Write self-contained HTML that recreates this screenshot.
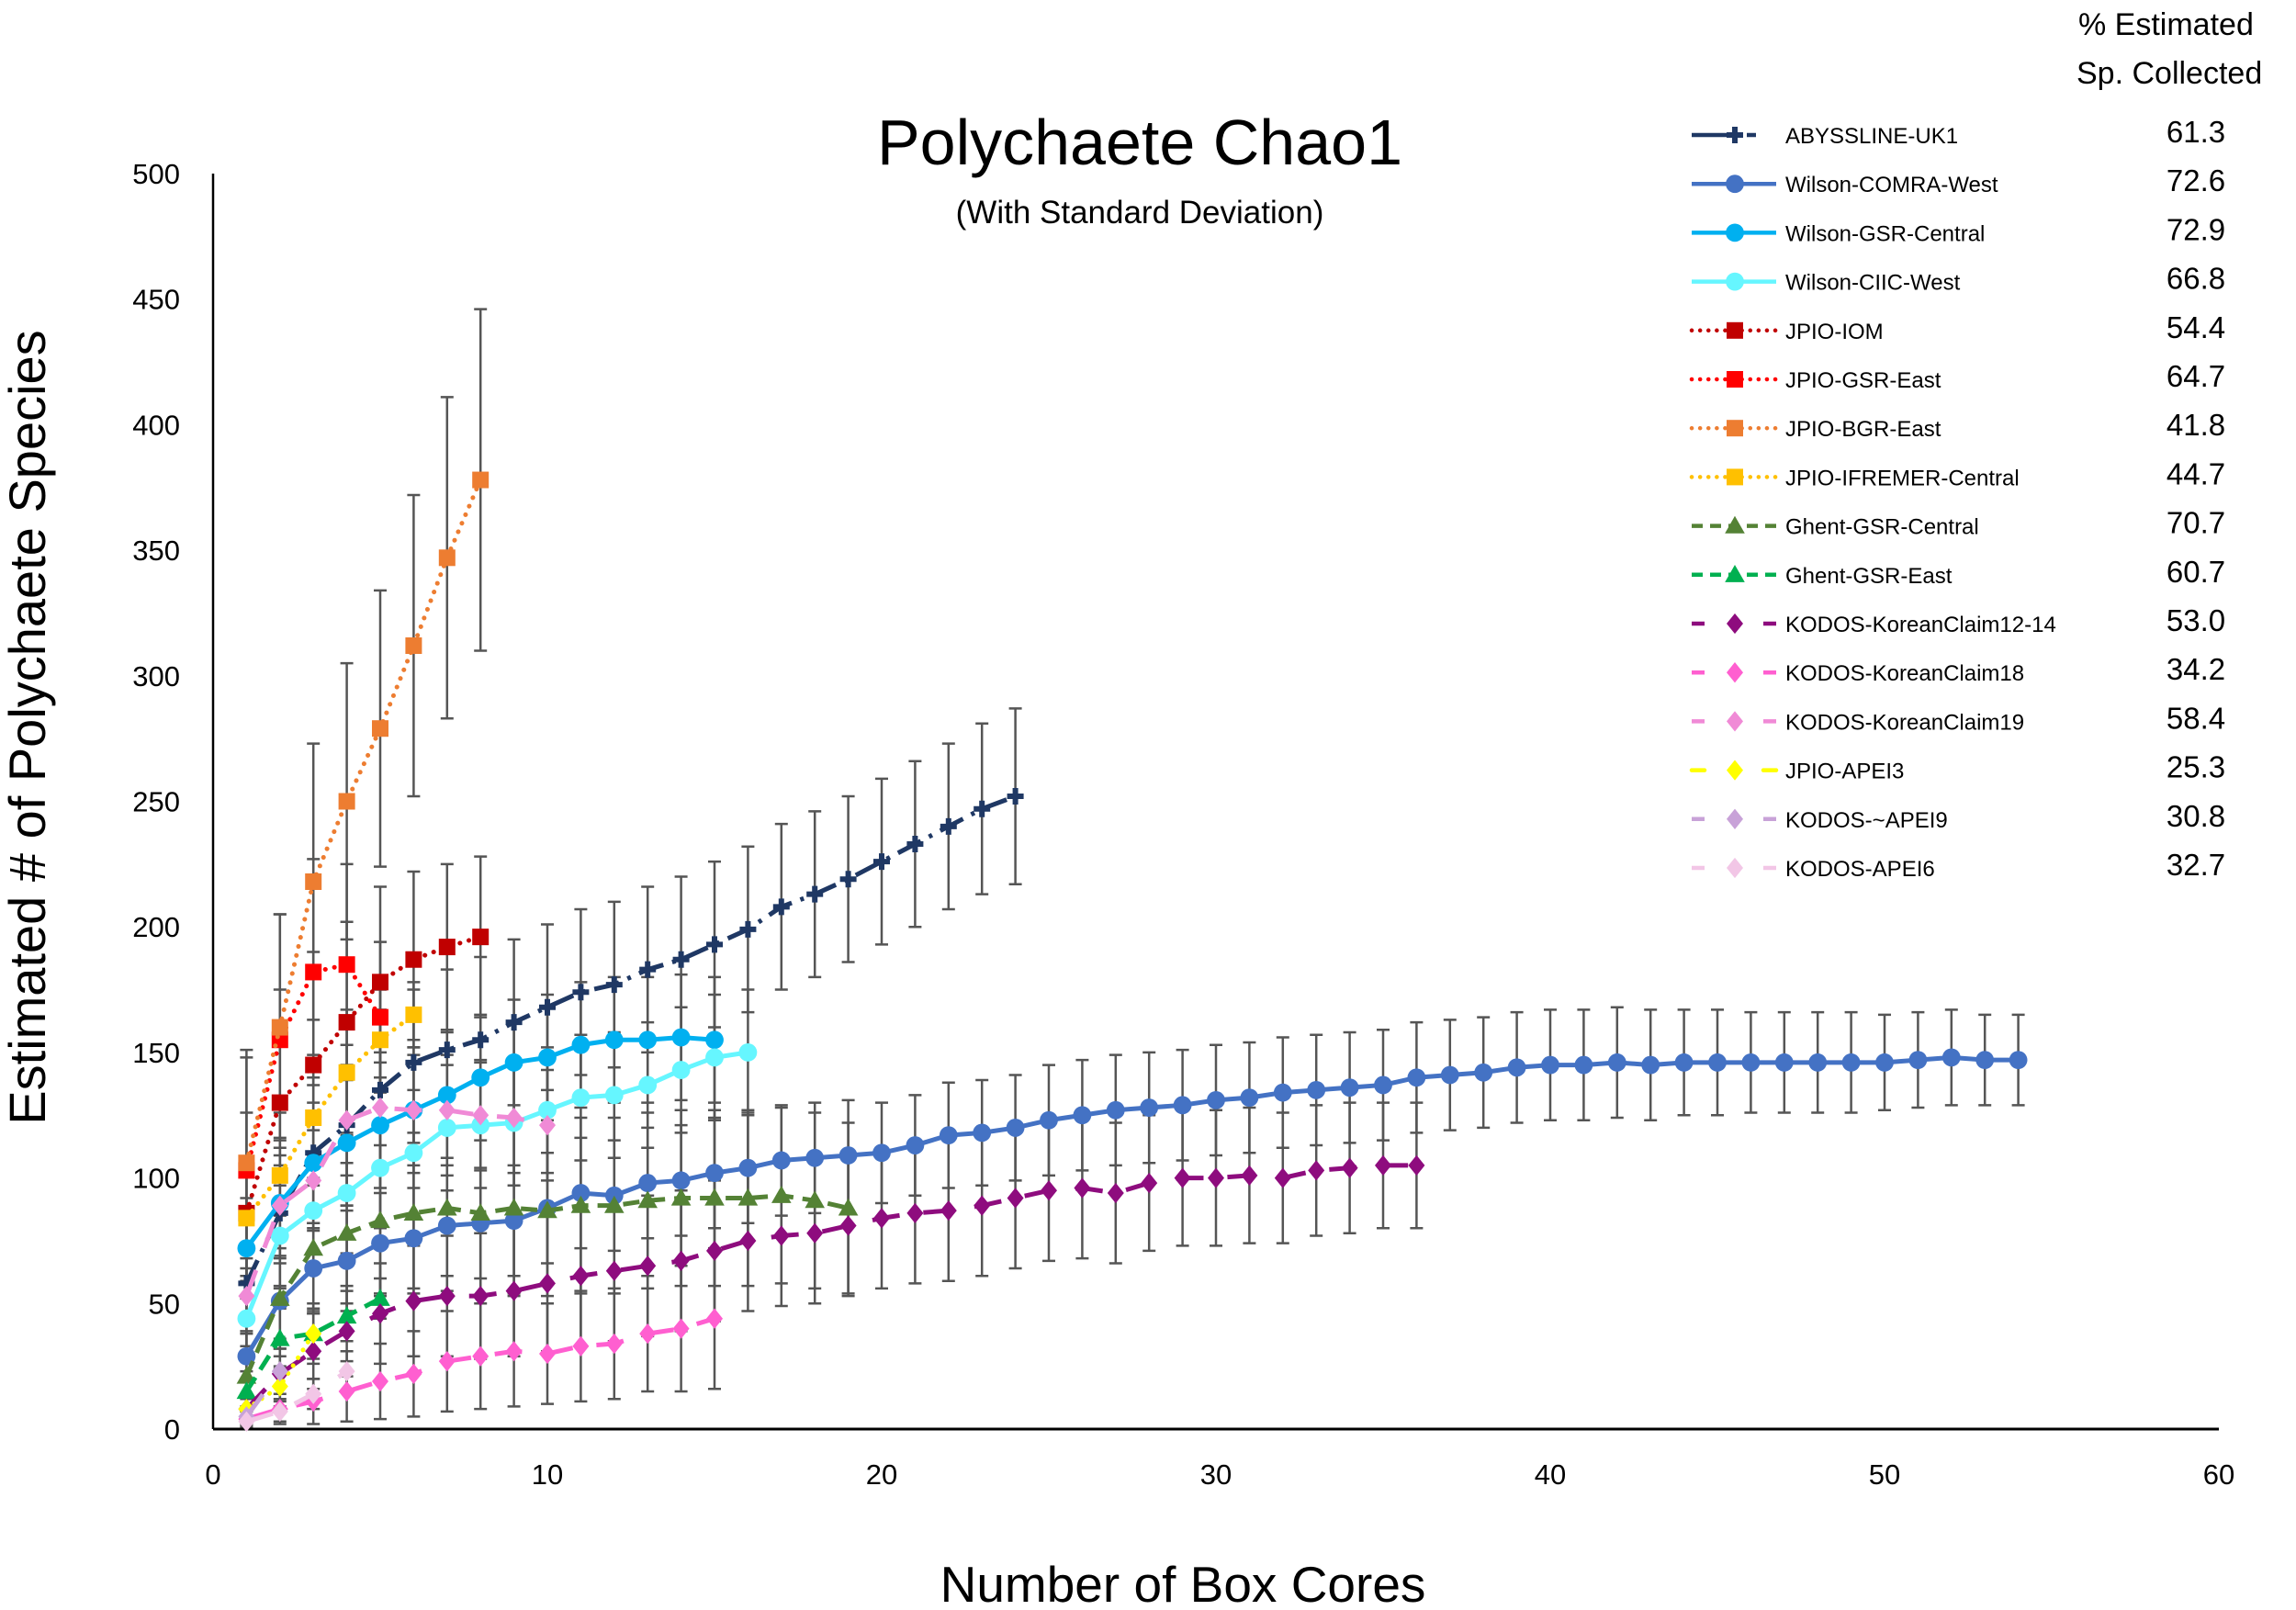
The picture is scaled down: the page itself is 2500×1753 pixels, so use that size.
<!DOCTYPE html>
<html><head><meta charset="utf-8">
<style>
html,body{margin:0;padding:0;background:#fff;}
svg{display:block;font-family:"Liberation Sans",sans-serif;}
</style></head>
<body>
<svg id="chart" width="2500" height="1753" viewBox="0 0 2500 1753" xmlns="http://www.w3.org/2000/svg">
<text x="1241" y="179" font-size="70" text-anchor="middle" fill="#000">Polychaete Chao1</text>
<text x="1241" y="243" font-size="35" text-anchor="middle" fill="#000">(With Standard Deviation)</text>
<text transform="translate(49,792) rotate(-90)" font-size="56" text-anchor="middle" fill="#000">Estimated # of Polychaete Species</text>
<text x="1288" y="1744" font-size="55" text-anchor="middle" fill="#000">Number of Box Cores</text>
<text x="2263" y="38" font-size="34" fill="#000">% Estimated</text>
<text x="2261" y="91" font-size="34" fill="#000">Sp. Collected</text>
<g id="axes"></g>
<g id="errs"></g>
<g id="series"></g>
<g id="legend"></g>
</svg>
<script>
const xTicks=[0,10,20,30,40,50,60];
const yTicks=[0,50,100,150,200,250,300,350,400,450,500];
const names=["ABYSSLINE-UK1","Wilson-COMRA-West","Wilson-GSR-Central","Wilson-CIIC-West","JPIO-IOM","JPIO-GSR-East","JPIO-BGR-East","JPIO-IFREMER-Central","Ghent-GSR-Central","Ghent-GSR-East","KODOS-KoreanClaim12-14","KODOS-KoreanClaim18","KODOS-KoreanClaim19","JPIO-APEI3","KODOS-~APEI9","KODOS-APEI6"];
const pct=["61.3","72.6","72.9","66.8","54.4","64.7","41.8","44.7","70.7","60.7","53.0","34.2","58.4","25.3","30.8","32.7"];
const vAbyss=[58,86,110,121,135,146,151,155,162,168,174,177,183,187,193,199,208,213,219,226,233,240,247,252];
const sAbyss=[30,30,30,32,32,32,32,33,33,33,33,33,33,33,33,33,33,33,33,33,33,33,34,35];
const vComra=[29,51,64,67,74,76,81,82,83,88,94,93,98,99,102,104,107,108,109,110,113,117,118,120,123,125,127,128,129,131,132,134,135,136,137,140,141,142,144,145,145,146,145,146,146,146,146,146,146,146,147,148,147,147];
const sComra=[10,15,18,20,20,20,20,22,22,22,22,22,22,22,22,22,22,22,22,20,20,21,21,21,22,22,22,22,22,22,22,22,22,22,22,22,22,22,22,22,22,22,22,21,21,20,20,20,20,19,19,19,18,18];
const vGsrC=[72,90,106,114,121,127,133,140,146,148,153,155,155,156,155];
const sGsrC=[20,22,24,25,25,25,25,25,25,25,25,25,25,25,25];
const vCiic=[44,77,87,94,104,110,120,121,122,127,132,133,137,143,148,150];
const sCiic=[15,20,22,24,24,25,25,25,25,25,25,25,25,25,25,25];
const vIom=[86,130,145,162,178,187,192,196];
const sIom=[40,45,45,40,38,35,33,32];
const vGsrE=[103,155,182,185,164];
const sGsrE=[45,50,45,40,30];
const vBgr=[106,160,218,250,279,312,347,378];
const sBgr=[45,45,55,55,55,60,64,68];
const vIfr=[84,101,124,142,155,165];
const sIfr=[20,25,25,25,20,10];
const vGhC=[21,52,72,78,83,86,88,86,88,87,89,89,91,92,92,92,93,91,88];
const sGhC=[12,20,25,28,30,32,33,33,34,34,35,35,35,35,35,35,35,35,34];
const vGhE=[15,36,38,45,52];
const sGhE=[8,12,12,10,8];
const vK1214=[8,22,31,39,46,51,53,53,55,58,61,63,65,67,71,75,77,78,81,84,86,87,89,92,95,96,94,98,100,100,101,100,103,104,105,105];
const sK1214=[6,10,15,18,20,22,24,25,26,27,28,28,28,28,28,28,28,28,28,28,28,28,28,28,28,28,28,27,27,27,27,26,26,26,25,25];
const vK18=[4,8,11,15,19,22,27,29,31,30,33,34,38,40,44];
const sK18=[3,6,9,12,15,17,20,21,22,20,22,22,23,25,28];
const vK19=[53,89,99,123,128,127,127,125,124,121];
const sK19=[15,20,20,22,22,22,22,22,22,22];
const vApei3=[8,17,38];
const sApei3=[4,8,10];
const vApei9=[5,23];
const sApei9=[3,6];
const vApei6=[3,7,14,23];
const sApei6=[2,4,6,8];

const seriesVals=[vAbyss,vComra,vGsrC,vCiic,vIom,vGsrE,vBgr,vIfr,vGhC,vGhE,vK1214,vK18,vK19,vApei3,vApei9,vApei6];
const seriesSd=[sAbyss,sComra,sGsrC,sCiic,sIom,sGsrE,sBgr,sIfr,sGhC,sGhE,sK1214,sK18,sK19,sApei3,sApei9,sApei6];
const colors=["#1f3864","#4472c4","#00b0f0","#66f6ff","#c00000","#ff0000","#ed7d31","#ffc000","#548235","#00b050","#8e0c7e","#ff5fd0","#f08ad6","#ffff00","#c8a2d8","#f2c6e6"];
const dashes=["28,10,4,10","","","","0.1,10","0.1,10","0.1,10","0.1,10","18,10","18,10","30,26","30,26","30,26","0.1,10","30,26","30,26"];
const markers=["plus","circle","circle","circle","square","square","square","square","tri","tri","diamond","diamond","diamond","diamond","diamond","diamond"];

const NS="http://www.w3.org/2000/svg";
const X0=232,X1=2416,Y0=1556,Y1=189;
function sx(v){return X0+(v-0)/(60-0)*(X1-X0);}
function sy(v){return Y0-(v-0)/(500-0)*(Y0-Y1);}
function mk(tag,attrs,parent){const e=document.createElementNS(NS,tag);for(const k in attrs)e.setAttribute(k,attrs[k]);parent.appendChild(e);return e;}

const axes=document.getElementById('axes');
let a=mk('line',{x1:X0,y1:Y1,x2:X0,y2:Y0,stroke:'#000','stroke-width':2.5},axes);


a=mk('line',{x1:X0,y1:Y0,x2:X1,y2:Y0,stroke:'#000','stroke-width':3},axes);


yTicks.forEach(t=>{const e=mk('text',{x:196,y:sy(t)+11,'font-size':31,'text-anchor':'end',fill:'#000'},axes);e.textContent=t;

});
xTicks.forEach(t=>{const e=mk('text',{x:sx(t),y:1616,'font-size':31,'text-anchor':'middle',fill:'#000'},axes);e.textContent=t;

});

function marker(type,cx,cy,col,g,sz){
  let e;
  if(type==='circle')e=mk('circle',{cx:cx,cy:cy,r:sz*0.55,fill:col},g);
  else if(type==='square')e=mk('rect',{x:cx-sz*0.5,y:cy-sz*0.5,width:sz,height:sz,fill:col},g);
  else if(type==='tri')e=mk('polygon',{points:`${cx},${cy-sz*0.6} ${cx+sz*0.6},${cy+sz*0.45} ${cx-sz*0.6},${cy+sz*0.45}`,fill:col},g);
  else if(type==='diamond')e=mk('polygon',{points:`${cx},${cy-sz*0.62} ${cx+sz*0.5},${cy} ${cx},${cy+sz*0.62} ${cx-sz*0.5},${cy}`,fill:col},g);
  else {e=mk('path',{d:`M${cx-sz*0.5},${cy}H${cx+sz*0.5}M${cx},${cy-sz*0.5}V${cy+sz*0.5}`,stroke:col,'stroke-width':6,fill:'none'},g);}
  return e;
}

const errs=document.getElementById('errs');
const sg=document.getElementById('series');
seriesVals.forEach((vals,i)=>{
  const sd=seriesSd[i];
  const eg=mk('g',{},errs);
  
  
  vals.forEach((v,j)=>{
    const x=sx(j+1),lo=sy(Math.max(0,v-sd[j])),hi=sy(v+sd[j]);
    mk('path',{d:`M${x},${lo}V${hi}M${x-7},${lo}H${x+7}M${x-7},${hi}H${x+7}`,stroke:'#555','stroke-width':2.5,fill:'none'},eg);
  });
  const g=mk('g',{},sg);
  
  
  const pts=vals.map((v,j)=>sx(j+1)+','+sy(v)).join(' ');
  const pl=mk('polyline',{points:pts,fill:'none',stroke:colors[i],'stroke-width':5,'stroke-linecap':dashes[i].startsWith('0.1')?'round':'butt','stroke-linejoin':'round'},g);
  if(dashes[i])pl.setAttribute('stroke-dasharray',dashes[i]);
  vals.forEach((v,j)=>{marker(markers[i],sx(j+1),sy(v),colors[i],g,18);});
});

const lg=document.getElementById('legend');
names.forEach((n,i)=>{
  const y=147+i*53.2;
  const g=mk('g',{},lg);
  
  
  const ln=mk('line',{x1:1842,y1:y,x2:1934,y2:y,stroke:colors[i],'stroke-width':4.5,'stroke-linecap':dashes[i].startsWith('0.1')?'round':'butt'},g);
  if(dashes[i])ln.setAttribute('stroke-dasharray',dashes[i].startsWith('0.1')?'0.1,9':(markers[i]==='plus'?'40,8,4,8,10,100':(dashes[i]==='18,10'?'12,8':'14,100')));
  if(markers[i]==='diamond'){ln.setAttribute('stroke-dasharray','14,64,14');}
  marker(markers[i],1889,y,colors[i],g,18);
  const t=mk('text',{x:1944,y:y+9,'font-size':24,fill:'#000'},g);t.textContent=n;
  const p=mk('text',{x:2391,y:y+8,'font-size':33,'text-anchor':'middle',fill:'#000'},g);p.textContent=pct[i];
});
</script>
</body></html>
